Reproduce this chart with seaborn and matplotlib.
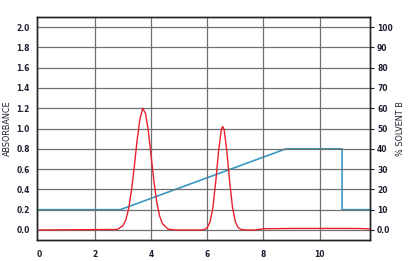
import matplotlib
matplotlib.use("Agg")
import matplotlib.pyplot as plt
import seaborn as sns
import pandas as pd

# Absorbance trace (red)
time_abs = [0.0, 2.8, 3.0, 3.1, 3.2, 3.3, 3.4, 3.5, 3.6, 3.7, 3.8, 3.9, 4.0, 4.1, 4.2, 4.3,
            4.4, 4.6, 4.8, 5.0, 5.8, 5.9, 6.0, 6.1, 6.2, 6.3, 6.4, 6.5, 6.55, 6.6, 6.7,
            6.8, 6.9, 7.0, 7.1, 7.2, 7.4, 7.7, 8.0, 9.0, 10.0, 11.0, 11.5, 11.8]
absorbance = [0.0, 0.005, 0.044, 0.10, 0.21, 0.39, 0.62, 0.88, 1.09, 1.20, 1.15, 0.98, 0.73, 0.48, 0.28, 0.14,
              0.063, 0.009, 0.001, 0.0, 0.0, 0.005, 0.023, 0.08, 0.22, 0.47, 0.77, 0.99, 1.02, 0.99, 0.77,
              0.47, 0.22, 0.08, 0.023, 0.005, 0.0, 0.0, 0.012, 0.015, 0.015, 0.015, 0.014, 0.01]

# Solvent B gradient (blue)
time_b = [0.0, 2.9, 8.8, 10.8, 10.8, 11.8]
solvent_b = [10, 10, 40, 40, 10, 10]

left_ticks = [0.0, 0.2, 0.4, 0.6, 0.8, 1.0, 1.2, 1.4, 1.6, 1.8, 2.0]
right_ticks = [0, 10, 20, 30, 40, 50, 60, 70, 80, 90, 100]
right_labels = ["0.0", "10", "20", "30", "40", "50", "60", "70", "80", "90", "100"]
x_ticks = [0, 2, 4, 6, 8, 10]

sns.set_style("white")
plt.rcParams['font.family'] = ['DejaVu Sans']
plt.rcParams['font.stretch'] = 'condensed'

fig = plt.figure(figsize=(4.09, 2.61), dpi=100)
ax = fig.add_axes([0.09, 0.08, 0.815, 0.855])
ax2 = ax.twinx()

grid_c = "#707070"
for y in left_ticks:
    ax.axhline(y, color=grid_c, lw=0.9, zorder=0)
for x in x_ticks[1:]:
    ax.axvline(x, color=grid_c, lw=0.9, zorder=0)

df_b = pd.DataFrame({"t": time_b, "b": solvent_b})
df_a = pd.DataFrame({"t": time_abs, "a": absorbance})

sns.lineplot(data=df_b, x="t", y="b", ax=ax2, color="#3a98c4", lw=1.2, sort=False, estimator=None)
sns.lineplot(data=df_a, x="t", y="a", ax=ax, color="#e8202e", lw=1.0, sort=False, estimator=None)
ax.set_zorder(ax2.get_zorder() + 1)
ax.patch.set_visible(False)

ax.set_xlim(-0.07, 11.8)
ax.set_ylim(-0.1, 2.1)
ax2.set_ylim(-5, 105)

tc = "#1e1e30"
ax.set_yticks(left_ticks)
ax.set_yticklabels([f"{v:.1f}" for v in left_ticks])
ax.set_xticks(x_ticks)
ax.set_xticklabels([str(v) for v in x_ticks])
ax2.set_yticks(right_ticks)
ax2.set_yticklabels(right_labels)

for a in (ax, ax2):
    a.tick_params(axis="both", labelsize=6, colors=tc, length=3, width=0.8, pad=2)
    for lab in a.get_xticklabels() + a.get_yticklabels():
        lab.set_fontweight("bold")
        lab.set_fontstretch("condensed")
    for s in a.spines.values():
        s.set_color("#222222")
        s.set_linewidth(1.0)
ax.tick_params(axis="y", length=0, pad=5)
ax.tick_params(axis="x", colors=tc, length=3, pad=4)

ax.set_xlabel("")
ax.set_ylabel("ABSORBANCE", fontsize=6.5, color=tc, fontstretch="condensed")
ax2.set_ylabel("% SOLVENT B", fontsize=6.5, color=tc, fontstretch="condensed")
ax.yaxis.set_label_coords(-0.075, 0.5)
ax2.yaxis.set_label_coords(1.078, 0.5)

fig.savefig("out.png", dpi=100)
